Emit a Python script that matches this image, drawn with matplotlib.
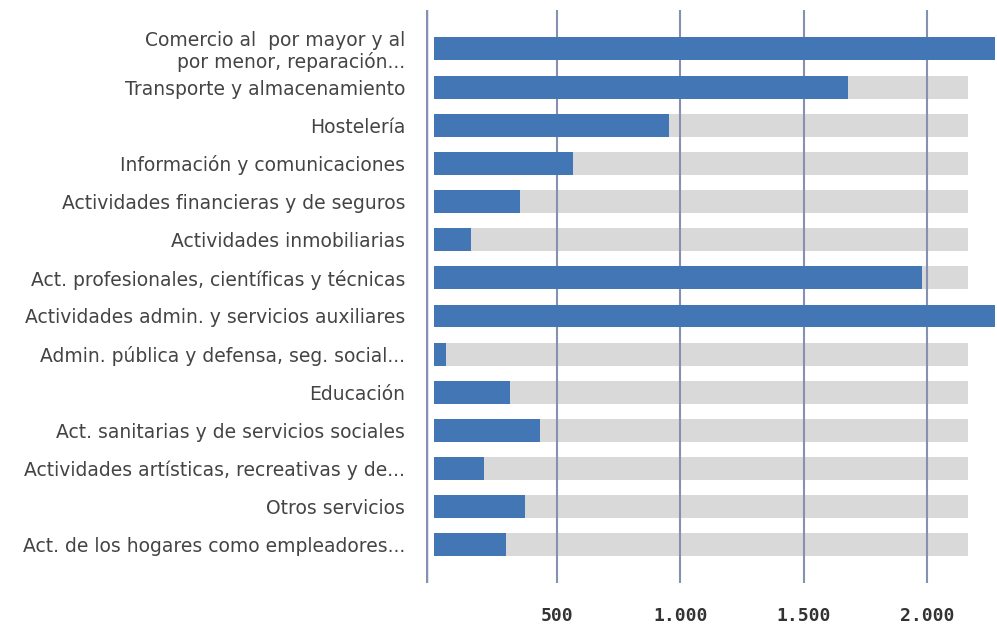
import numpy as np
from matplotlib import pyplot as plt

sectores = [
    'Comercio al  por mayor y al\npor menor, reparación...',
    'Transporte y almacenamiento',
    'Hostelería',
    'Información y comunicaciones',
    'Actividades financieras y de seguros',
    'Actividades inmobiliarias',
    'Act. profesionales, científicas y técnicas',
    'Actividades admin. y servicios auxiliares',
    'Admin. pública y defensa, seg. social...',
    'Educación',
    'Act. sanitarias y de servicios sociales',
    'Actividades artísticas, recreativas y de...',
    'Otros servicios',
    'Act. de los hogares como empleadores...',
]
valores = [2500, 1680, 953, 564, 349, 150, 1980, 2450, 49, 308, 430, 203, 369, 292]
fondo = [2166] * len(sectores)
ticks = [500, 1000, 1500, 2000]
tick_labels = ['500', '1.000', '1.500', '2.000']

azul = '#4376b5'
gris = '#d9d9d9'
linea = '#8690b0'

fig = plt.figure(figsize=(9.97, 6.25), dpi=100)
ax = fig.add_axes([426/997, 1-583/625, (995-426)/997, (583-10)/625])

y = np.arange(len(sectores))
ax.barh(y, fondo, height=0.6, color=gris, zorder=1)
ax.barh(y, valores, height=0.6, color=azul, zorder=3)

xmin = -32
ax.set_xlim(xmin, 2276)
ax.set_ylim(len(sectores) - 1 + 1.0, -1.02)

for t in ticks:
    ax.axvline(t, color=linea, lw=1.5, zorder=2)
ax.axvline(xmin, color=linea, lw=2.5, zorder=2)

for s in ax.spines.values():
    s.set_visible(False)

ax.set_yticks(y)
ax.set_yticklabels(sectores, fontsize=13.5, color='#444444', linespacing=1.1)
ax.tick_params(axis='y', length=0, pad=15)
ax.set_xticks(ticks)
ax.set_xticklabels(tick_labels, fontsize=13, fontweight='bold', family='DejaVu Sans Mono', color='#333333')
ax.tick_params(axis='x', length=0, pad=17)

fig.savefig('out.png', dpi=100)
